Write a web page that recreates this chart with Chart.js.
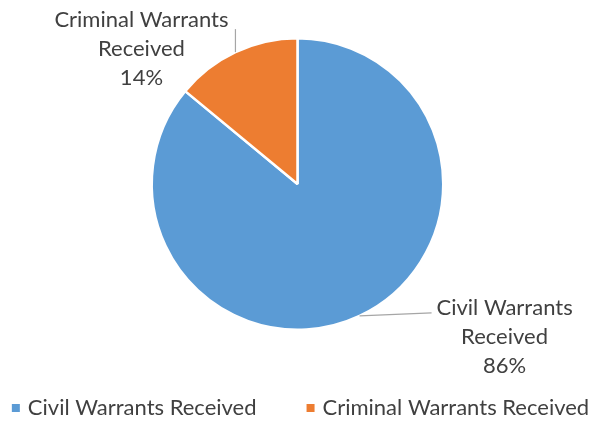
<!DOCTYPE html>
<html>
<head>
<meta charset="utf-8">
<script src="https://cdn.jsdelivr.net/npm/chart.js@4.4.0/dist/chart.umd.min.js"></script>
<style>
  html, body { margin: 0; padding: 0; background: #fff; }
  #wrap { width: 595px; height: 421px; }
</style>
</head>
<body>
<div id="wrap"><canvas id="pieChart"></canvas></div>
<script>
const categories = ['Civil Warrants Received', 'Criminal Warrants Received'];
const labelLines = [['Civil Warrants', 'Received'], ['Criminal Warrants', 'Received']];
const values = [86, 14];
const colors = ['#5B9BD5', '#ED7D31'];

const textColor = '#404040';
const fontFamily = 'Lato, "Liberation Sans", sans-serif';

// where each data label sits relative to the slice edge point
const labelOffsets = [
  { lineTo: [72, -3], text: [145, 21] },
  { lineTo: [0, -23], text: [-94, -3] }
];

const dataLabels = {
  id: 'dataLabels',
  afterDatasetsDraw(chart) {
    const ctx = chart.ctx;
    const meta = chart.getDatasetMeta(0);
    const total = values.reduce((a, b) => a + b, 0);
    meta.data.forEach((arc, i) => {
      const mid = (arc.startAngle + arc.endAngle) / 2;
      const ex = arc.x + Math.cos(mid) * arc.outerRadius;
      const ey = arc.y + Math.sin(mid) * arc.outerRadius;
      const off = labelOffsets[i];
      ctx.save();
      ctx.strokeStyle = '#A6A6A6';
      ctx.lineWidth = 1.2;
      ctx.beginPath();
      ctx.moveTo(ex, ey);
      ctx.lineTo(ex + off.lineTo[0], ey + off.lineTo[1]);
      ctx.stroke();

      const lines = labelLines[i].concat([Math.round(values[i] / total * 100) + '%']);
      ctx.fillStyle = textColor;
      ctx.font = '22px ' + fontFamily;
      ctx.textAlign = 'center';
      ctx.textBaseline = 'middle';
      const cx = ex + off.text[0];
      const cy = ey + off.text[1];
      const lh = 29;
      lines.forEach((t, k) => {
        ctx.fillText(t, cx, cy + (k - 1) * lh);
      });
      ctx.restore();
    });
  }
};

// bottom legend, one row, drawn like the original (small squares, wide gap)
const bottomLegend = {
  id: 'bottomLegend',
  afterDraw(chart) {
    const ctx = chart.ctx;
    ctx.save();
    ctx.font = '22px ' + fontFamily;
    ctx.textBaseline = 'middle';
    const box = 8, boxGap = 8, itemGap = 50;
    const widths = categories.map(c => box + boxGap + ctx.measureText(c).width);
    const totalW = widths.reduce((a, b) => a + b, 0) + itemGap * (categories.length - 1);
    let x = (chart.width - totalW) / 2 + 3;
    const y = 408;
    categories.forEach((c, i) => {
      ctx.fillStyle = colors[i];
      ctx.fillRect(x, y - box / 2, box, box);
      ctx.fillStyle = textColor;
      ctx.fillText(c, x + box + boxGap, y);
      x += widths[i] + itemGap;
    });
    ctx.restore();
  }
};

new Chart(document.getElementById('pieChart'), {
  type: 'pie',
  data: {
    labels: categories,
    datasets: [{
      data: values,
      backgroundColor: colors,
      borderColor: '#ffffff',
      borderWidth: 2.5
    }]
  },
  options: {
    responsive: true,
    maintainAspectRatio: false,
    animation: false,
    layout: { padding: { top: 37, bottom: 90 } },
    plugins: {
      tooltip: { enabled: false },
      legend: { display: false }
    }
  },
  plugins: [dataLabels, bottomLegend]
});
</script>
</body>
</html>
